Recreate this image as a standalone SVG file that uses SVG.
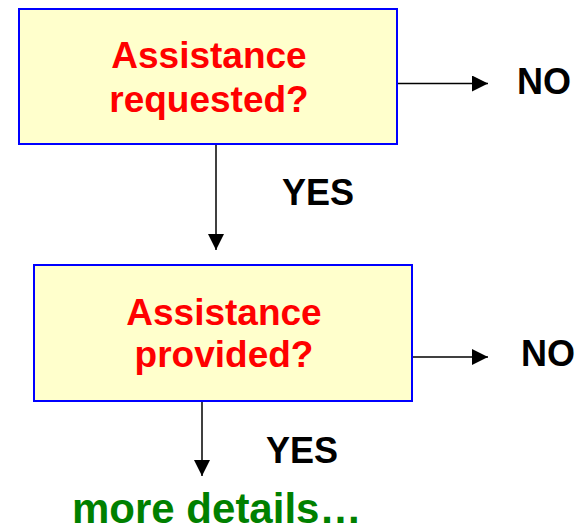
<svg xmlns="http://www.w3.org/2000/svg" width="581" height="532" viewBox="0 0 581 532">
  <style>
    .box { fill: #FFFFCC; stroke: #0000FF; stroke-width: 2; }
    .q { font-family: "Liberation Sans", Arial, sans-serif; font-weight: bold; font-size: 37px; fill: #FF0000; text-anchor: middle; }
    .lbl { font-family: "Liberation Sans", Arial, sans-serif; font-weight: bold; font-size: 36px; fill: #000000; }
    .more { font-family: "Liberation Sans", Arial, sans-serif; font-weight: bold; font-size: 42px; fill: #008000; }
    .conn { stroke: #000000; stroke-width: 1.5; fill: none; marker-end: url(#arrow); }
  </style>
  <defs>
    <marker id="arrow" markerUnits="userSpaceOnUse" markerWidth="16" markerHeight="16" refX="16" refY="8" orient="auto">
      <path d="M0,0 L16,8 L0,16 z" fill="#000000"/>
    </marker>
  </defs>
  <rect width="581" height="532" fill="#FFFFFF"/>
  <g id="connectors">
    <line class="conn" x1="397" y1="83.5" x2="488" y2="83.5"/>
    <line class="conn" x1="216" y1="144" x2="216" y2="250"/>
    <line class="conn" x1="412" y1="357" x2="488" y2="357"/>
    <line class="conn" x1="202" y1="401" x2="202" y2="476"/>
  </g>
  <g id="node-requested">
    <rect class="box" x="19" y="9" width="378" height="135"/>
    <text class="q" x="209" y="68">Assistance</text>
    <text class="q" x="209" y="112">requested?</text>
  </g>
  <g id="node-provided">
    <rect class="box" x="34" y="265" width="378" height="136"/>
    <text class="q" x="224" y="325">Assistance</text>
    <text class="q" x="224" y="367">provided?</text>
  </g>
  <g id="label-no1"><text class="lbl" x="517" y="94">NO</text></g>
  <g id="label-yes1"><text class="lbl" x="282" y="205">YES</text></g>
  <g id="label-no2"><text class="lbl" x="521" y="366">NO</text></g>
  <g id="label-yes2"><text class="lbl" x="266" y="463">YES</text></g>
  <g id="node-more"><text class="more" x="72" y="523">more details…</text></g>
</svg>
